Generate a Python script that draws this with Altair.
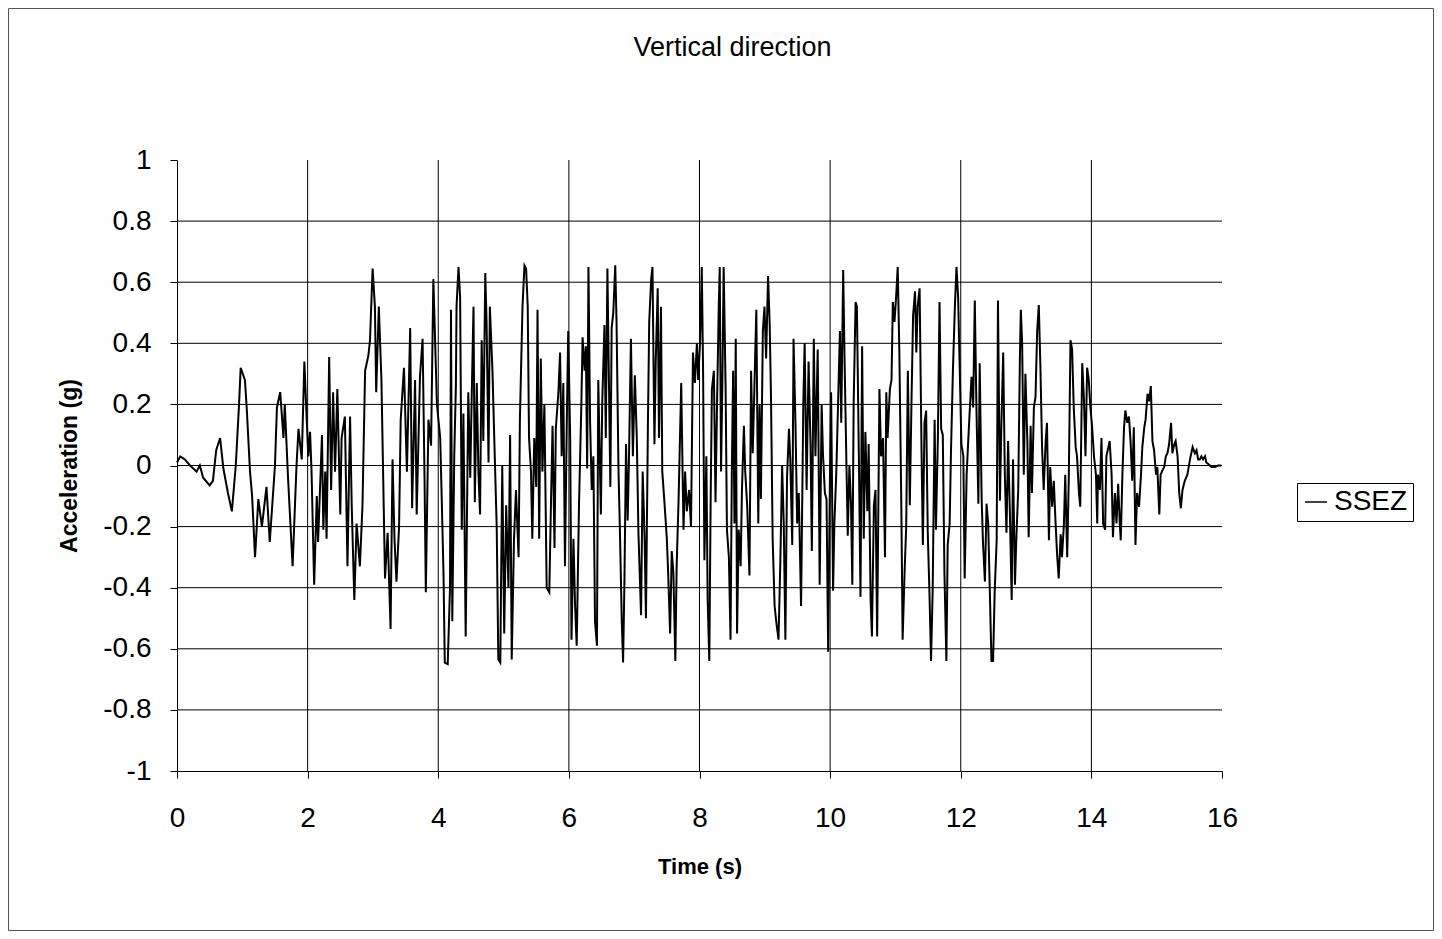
import altair as alt
import pandas as pd

# Time (s) and acceleration (g)
TIME = [
    0.00, 0.05, 0.12, 0.20, 0.30, 0.35, 0.40, 0.50, 0.55, 0.60, 0.66, 0.71, 0.78, 0.84, 0.90, 0.95,
    0.975, 1.04, 1.067, 1.118, 1.15, 1.195, 1.245, 1.30, 1.37, 1.42, 1.50, 1.53, 1.58, 1.63, 1.65,
    1.70, 1.77, 1.83, 1.86, 1.91, 1.95, 1.99,
    2.01, 2.037, 2.06, 2.10, 2.14, 2.16, 2.22, 2.24, 2.27, 2.29, 2.33, 2.36, 2.39, 2.42, 2.455, 2.50,
    2.52, 2.57, 2.61, 2.65, 2.675, 2.715, 2.75, 2.80, 2.84, 2.88, 2.93, 2.955, 2.995, 3.03, 3.05,
    3.09, 3.13, 3.185, 3.225, 3.27, 3.30, 3.33, 3.36, 3.40, 3.425, 3.475, 3.52, 3.57, 3.60, 3.645,
    3.67, 3.72, 3.76, 3.79, 3.81, 3.85, 3.89, 3.925, 3.98,
    4.03, 4.05, 4.08, 4.10, 4.145, 4.18, 4.195, 4.215, 4.245, 4.27, 4.28, 4.31, 4.335, 4.36, 4.385,
    4.42, 4.46, 4.49, 4.51, 4.54, 4.56, 4.59, 4.615, 4.64, 4.665, 4.69, 4.72, 4.74, 4.77, 4.79,
    4.83, 4.86, 4.895, 4.92, 4.95, 4.98, 5.01, 5.04, 5.075, 5.10, 5.125, 5.16, 5.19, 5.23, 5.25,
    5.29, 5.32, 5.345, 5.37, 5.39, 5.42, 5.44, 5.47, 5.50, 5.52, 5.545, 5.57, 5.595, 5.625, 5.66,
    5.70, 5.73, 5.75, 5.78, 5.80, 5.84, 5.865, 5.89, 5.915, 5.94, 5.97, 5.99, 6.02,
    6.04, 6.07, 6.095, 6.12, 6.155, 6.19, 6.21, 6.24, 6.26, 6.28, 6.30, 6.325, 6.35, 6.375, 6.40,
    6.43, 6.45, 6.48, 6.49, 6.51, 6.545, 6.565, 6.59, 6.615, 6.635, 6.655, 6.68, 6.71, 6.73, 6.76,
    6.78, 6.81, 6.83, 6.85, 6.875, 6.90, 6.92, 6.95, 6.98, 7.01, 7.04, 7.065, 7.105, 7.13, 7.16,
    7.18, 7.21, 7.23, 7.26, 7.28, 7.31, 7.33, 7.36, 7.38, 7.41, 7.43, 7.46, 7.50, 7.52, 7.55,
    7.575, 7.60, 7.63, 7.65, 7.68, 7.72, 7.755, 7.78, 7.805, 7.84, 7.87, 7.90, 7.93, 7.96, 7.98,
    8.01, 8.035,
    8.055, 8.075, 8.105, 8.125, 8.15, 8.17, 8.19, 8.22, 8.245, 8.27, 8.295, 8.31, 8.33, 8.35, 8.37,
    8.40, 8.42, 8.45, 8.475, 8.495, 8.515, 8.535, 8.555, 8.575, 8.60, 8.63, 8.65, 8.68, 8.70, 8.73,
    8.765, 8.79, 8.815, 8.84, 8.87, 8.90, 8.92, 8.94, 8.97, 8.995, 9.02, 9.05, 9.075, 9.095, 9.12,
    9.15, 9.18, 9.21, 9.24, 9.265, 9.29, 9.315, 9.34, 9.37, 9.39, 9.42, 9.44, 9.47, 9.495, 9.52,
    9.555, 9.59, 9.61, 9.64, 9.67, 9.70, 9.72, 9.75, 9.775, 9.81, 9.84, 9.87, 9.89, 9.92, 9.945,
    9.97, 9.995, 10.015, 10.045,
    10.065, 10.095, 10.15, 10.17, 10.20, 10.22, 10.25, 10.27, 10.295, 10.32, 10.34, 10.36, 10.39,
    10.41, 10.44, 10.465, 10.49, 10.515, 10.54, 10.57, 10.59, 10.62, 10.64, 10.67, 10.695, 10.72,
    10.755, 10.78, 10.81, 10.84, 10.86, 10.88, 10.915, 10.94, 10.96, 10.985, 11.01, 11.035, 11.06,
    11.09, 11.11, 11.14, 11.165, 11.19, 11.22, 11.245, 11.27, 11.30, 11.32, 11.34, 11.37, 11.40,
    11.42, 11.445, 11.47, 11.495, 11.52, 11.545, 11.57, 11.60, 11.62, 11.65, 11.675, 11.70, 11.725,
    11.75, 11.78, 11.80, 11.83, 11.85, 11.88, 11.91, 11.935, 11.96, 11.985, 12.01,
    12.04, 12.06, 12.09, 12.11, 12.14, 12.165, 12.19, 12.215, 12.24, 12.27, 12.29, 12.32, 12.34,
    12.37, 12.395, 12.42, 12.445, 12.47, 12.495, 12.52, 12.55, 12.57, 12.60, 12.62, 12.65, 12.675,
    12.70, 12.725, 12.75, 12.78, 12.80, 12.83, 12.85, 12.88, 12.905, 12.92, 12.94, 12.965, 12.99,
    13.02, 13.04, 13.07, 13.09, 13.12, 13.145, 13.17, 13.195, 13.22, 13.245, 13.27, 13.30, 13.32,
    13.35, 13.37, 13.40, 13.425, 13.45, 13.475, 13.50, 13.53, 13.55, 13.58, 13.60, 13.63, 13.655,
    13.68, 13.705, 13.73, 13.76, 13.78, 13.81, 13.83, 13.86, 13.885, 13.91, 13.935, 13.96, 13.985,
    14.01, 14.04, 14.07, 14.09,
    14.10, 14.13, 14.155, 14.18, 14.21, 14.23, 14.26, 14.28, 14.31, 14.33, 14.36, 14.385, 14.41,
    14.435, 14.45, 14.475, 14.50, 14.52, 14.55, 14.575, 14.60, 14.625, 14.65, 14.675, 14.70, 14.73,
    14.76, 14.78, 14.81, 14.83, 14.86, 14.885, 14.91, 14.935, 14.96, 14.99, 15.01, 15.04, 15.06,
    15.09, 15.115, 15.14, 15.165, 15.19, 15.22, 15.24, 15.27, 15.29, 15.32, 15.345, 15.37, 15.395,
    15.43, 15.47, 15.51, 15.55, 15.585, 15.61, 15.635, 15.66, 15.685, 15.71, 15.74, 15.76, 15.79,
    15.84, 15.89, 15.94, 15.99,
]

ACCEL = [
    0.01, 0.03, 0.02, 0.00, -0.02, 0.00, -0.04, -0.065, -0.05, 0.05, 0.09, -0.01, -0.09, -0.15, 0.00, 0.20,
    0.32, 0.28, 0.19, -0.02, -0.10, -0.30, -0.11, -0.20, -0.07, -0.25, 0.00, 0.19, 0.24, 0.09, 0.20,
    -0.04, -0.33, 0.00, 0.12, 0.02, 0.34, 0.13,
    0.03, 0.11, -0.02, -0.39, -0.10, -0.25, 0.10, -0.21, -0.02, -0.24, 0.355, -0.08, 0.24, -0.02, 0.25, -0.16,
    0.09, 0.16, -0.33, 0.16, -0.13, -0.44, -0.19, -0.33, -0.13, 0.31, 0.36, 0.41, 0.645, 0.52, 0.24,
    0.52, 0.28, -0.37, -0.22, -0.535, 0.02, -0.24, -0.38, -0.20, 0.15, 0.32, -0.02, 0.45, -0.14, 0.28,
    -0.16, 0.29, 0.415, -0.04, -0.415, 0.15, 0.065, 0.61, 0.20,
    0.09, -0.08, -0.35, -0.645, -0.65, -0.40, 0.51, -0.51, 0.03, 0.26, 0.52, 0.65, 0.55, -0.21, 0.17,
    -0.56, 0.24, -0.04, 0.20, 0.52, -0.12, 0.27, -0.02, -0.16, 0.41, 0.08, 0.63, 0.47, 0.01, 0.52,
    0.31, 0.07, -0.20, -0.635, -0.645, 0.00, -0.55, -0.13, -0.40, 0.10, -0.635, -0.24, -0.08, -0.30, 0.15,
    0.52, 0.655, 0.645, 0.52, 0.09, -0.02, -0.24, 0.09, -0.07, 0.51, -0.24, 0.35, -0.02, 0.20, -0.40,
    -0.415, -0.08, 0.13, -0.27, 0.12, 0.24, 0.37, 0.03, 0.27, -0.33, 0.17, 0.44, 0.09,
    -0.57, -0.24, -0.46, -0.59, -0.13, 0.19, 0.42, 0.31, 0.39, -0.01, 0.65, 0.14, -0.08, 0.03, -0.51,
    -0.59, 0.28, -0.05, -0.16, 0.20, 0.46, 0.09, 0.645, 0.25, -0.07, 0.45, 0.50, 0.655, 0.47, -0.02,
    -0.20, -0.51, -0.645, -0.39, 0.07, -0.18, 0.02, 0.415, 0.03, 0.295, 0.09, -0.22, -0.49, -0.02, -0.24,
    -0.50, 0.13, 0.47, 0.61, 0.65, 0.07, 0.34, 0.58, 0.09, 0.52, -0.02, -0.11, -0.24, -0.35, -0.55,
    -0.28, -0.35, -0.64, -0.33, -0.11, 0.27, -0.21, -0.02, -0.15, -0.08, -0.20, 0.37, 0.27, 0.40, 0.28,
    0.41, 0.65,
    0.31, -0.31, 0.03, -0.44, -0.64, -0.13, 0.25, 0.31, -0.12, 0.22, 0.52, 0.65, -0.02, 0.27, 0.65,
    0.25, -0.21, -0.30, -0.57, -0.02, 0.31, -0.19, 0.415, -0.55, -0.21, -0.33, -0.08, 0.13, -0.02, -0.13,
    -0.36, 0.31, 0.04, 0.25, 0.51, -0.19, 0.20, -0.11, 0.44, 0.52, 0.35, 0.62, 0.46, 0.22, -0.24,
    -0.46, -0.52, -0.57, -0.29, 0.00, -0.19, -0.57, -0.04, 0.12, 0.02, -0.26, 0.415, 0.13, -0.19, -0.09,
    -0.46, 0.21, 0.40, -0.08, 0.34, 0.07, -0.28, 0.415, 0.03, 0.38, -0.39, 0.20, 0.04, -0.09, -0.11,
    -0.61, -0.08, 0.24, -0.41,
    -0.19, -0.02, 0.44, 0.14, 0.64, 0.36, 0.00, -0.23, 0.00, -0.13, -0.39, 0.20, 0.535,
    0.52, 0.03, -0.43, 0.39, -0.24, 0.11, -0.15, 0.07, -0.44, -0.56, -0.13, -0.08, -0.56,
    0.25, 0.03, 0.09, -0.30, 0.24, 0.09, 0.25, 0.28, 0.535, 0.47, 0.55, 0.65, 0.37,
    -0.13, -0.57, -0.35, -0.20, 0.31, -0.13, 0.20, 0.49, 0.57, 0.37, 0.52, 0.58, 0.04,
    -0.26, 0.14, 0.18, -0.22, -0.41, -0.64, -0.41, 0.15, -0.21, 0.09, 0.535, 0.12, 0.10,
    -0.35, -0.64, -0.26, -0.19, 0.04, 0.31, 0.52, 0.65, 0.55, 0.31, 0.07,
    0.03, -0.37, -0.03, 0.06, 0.19, 0.29, 0.19, 0.54, 0.19, -0.125, 0.335, -0.11, -0.25,
    -0.38, -0.125, -0.19, -0.41, -0.64, -0.64, -0.41, -0.245, 0.54, -0.115, 0.115, 0.37, -0.03,
    -0.22, 0.08, -0.135, -0.44, 0.02, -0.39, -0.245, -0.08, 0.345, 0.51, 0.40, -0.03, 0.30,
    0.08, -0.235, 0.13, -0.09, 0.19, 0.225, 0.44, 0.525, 0.32, 0.06, -0.08, 0.08, 0.14,
    -0.245, -0.005, -0.135, -0.05, -0.18, -0.29, -0.37, -0.225, -0.30, -0.19, -0.03, -0.30, -0.03,
    0.41, 0.38, 0.19, 0.06, 0.03, -0.09, -0.135, 0.335, 0.225, 0.03, 0.32, 0.28, 0.19,
    0.13, 0.03, -0.03, -0.19,
    -0.03, -0.08, 0.09, -0.19, -0.21, 0.03, 0.06, 0.08, -0.03, -0.235, -0.09, -0.19, -0.06,
    -0.19, -0.245, -0.03, 0.125, 0.18, 0.14, 0.16, 0.08, -0.05, 0.125, -0.26, -0.09, -0.135,
    -0.03, 0.06, 0.125, 0.15, 0.235, 0.21, 0.26, 0.08, 0.05, -0.03, -0.005, -0.16, -0.03,
    -0.015, -0.005, 0.03, 0.04, 0.07, 0.14, 0.04, 0.07, 0.08, 0.03, -0.09, -0.14, -0.08,
    -0.05, -0.03, 0.02, 0.06, 0.04, 0.05, 0.02, 0.02, 0.03, 0.02, 0.03, 0.01, 0.005,
    -0.005, -0.005, 0.00, 0.00,
]

SERIES = "SSEZ"
X_TICKS = [0, 2, 4, 6, 8, 10, 12, 14, 16]
Y_TICKS = [-1, -0.8, -0.6, -0.4, -0.2, 0, 0.2, 0.4, 0.6, 0.8, 1]
H_GRID = [-0.8, -0.6, -0.4, -0.2, 0, 0.2, 0.4, 0.6, 0.8]
V_GRID = [2, 4, 6, 8, 10, 12, 14]

n = min(len(TIME), len(ACCEL))
df = pd.DataFrame({"t": TIME[:n], "a": ACCEL[:n], "series": [SERIES] * n})
hg = pd.DataFrame({"v": H_GRID})
vg = pd.DataFrame({"v": V_GRID})

FONT = "Liberation Sans"
LABEL_SIZE = 28
xscale = alt.Scale(domain=[0, 16], nice=False)
yscale = alt.Scale(domain=[-1, 1], nice=False)

line = alt.Chart(df).mark_line(strokeWidth=2, interpolate="linear").encode(
    x=alt.X(
        "t:Q",
        scale=xscale,
        axis=alt.Axis(
            values=X_TICKS, labelExpr="'' + datum.value", title="Time (s)", grid=False,
            labelFontSize=LABEL_SIZE, labelFont=FONT, labelColor="black", tickColor="black",
            domainColor="black", tickSize=7, labelPadding=26, titleFont=FONT, titleFontSize=22,
            titleFontWeight="bold", titleColor="black", titlePadding=24, labelFlush=False,
        ),
    ),
    y=alt.Y(
        "a:Q",
        scale=yscale,
        axis=alt.Axis(
            values=Y_TICKS, labelExpr="'' + datum.value", title="Acceleration (g)", grid=False,
            labelFontSize=LABEL_SIZE, labelFont=FONT, labelColor="black", tickColor="black",
            domainColor="black", tickSize=7, labelPadding=19, titleFont=FONT, titleFontSize=23,
            titleFontWeight="bold", titleColor="black", titlePadding=21, labelFlush=False,
        ),
    ),
    color=alt.Color(
        "series:N",
        scale=alt.Scale(range=["black"]),
        legend=alt.Legend(
            title=None, orient="none", legendX=1120, legendY=323, labelFontSize=LABEL_SIZE,
            labelFont=FONT, labelColor="black", symbolType="stroke", symbolSize=480,
            symbolStrokeWidth=1.5, strokeColor="black", padding=5, labelOffset=4,
        ),
    ),
)

hrules = alt.Chart(hg).mark_rule(color="black", strokeWidth=1).encode(
    y=alt.Y("v:Q", scale=yscale)
)
vrules = alt.Chart(vg).mark_rule(color="black", strokeWidth=1).encode(
    x=alt.X("v:Q", scale=xscale)
)

# thin chart-area frame around the whole figure
frame = alt.Chart(pd.DataFrame({"k": [0]})).mark_rect(
    filled=False, stroke="#555555", strokeWidth=1
).encode(
    x=alt.value(-168.5), x2=alt.value(1256.5), y=alt.value(-151.5), y2=alt.value(770.5)
)

chart = alt.layer(line, hrules, vrules, frame).properties(
    width=1045,
    height=611,
    title=alt.TitleParams(
        "Vertical direction", font=FONT, fontSize=27, fontWeight="normal", color="black",
        anchor="middle", offset=-54, dx=33,
    ),
    autosize=alt.AutoSizeParams(type="none"),
    padding={"left": 169, "top": 152, "right": 212, "bottom": 160},
).configure(background="white").configure_view(stroke=None)

chart.save("out.html", embed_options={"renderer": "svg", "actions": False})
